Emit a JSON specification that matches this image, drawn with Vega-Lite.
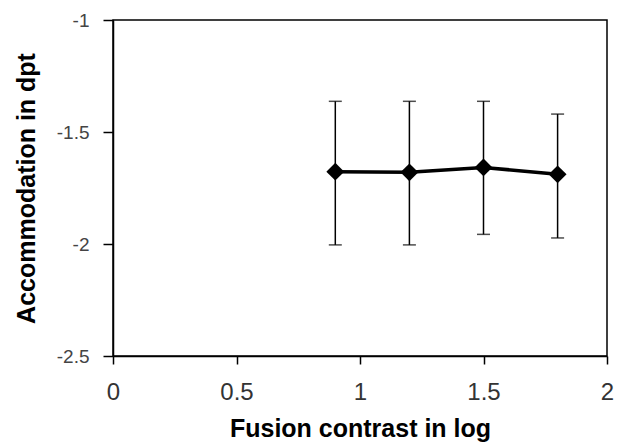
{
  "$schema": "https://vega.github.io/schema/vega-lite/v6.json",
  "width": 494,
  "height": 336,
  "autosize": {"type": "none"},
  "padding": {"left": 113, "top": 20, "right": 16, "bottom": 88},
  "background": "white",
  "config": {
    "view": {"stroke": "black", "strokeWidth": 1.5},
    "axis": {
      "domainColor": "black",
      "domainWidth": 1.5,
      "tickColor": "black",
      "tickWidth": 1.5,
      "grid": false,
      "labelFont": "Liberation Sans",
      "labelColor": "#333333",
      "titleFont": "Liberation Sans",
      "titleFontWeight": "bold",
      "titleFontSize": 25,
      "titleColor": "black"
    }
  },
  "data": {
    "values": [
      {"x": 0.9, "y": -1.677, "lo": -2.004, "hi": -1.363},
      {"x": 1.2, "y": -1.68, "lo": -2.004, "hi": -1.363},
      {"x": 1.5, "y": -1.658, "lo": -1.957, "hi": -1.363},
      {"x": 1.8, "y": -1.689, "lo": -1.973, "hi": -1.42}
    ]
  },
  "encoding": {
    "x": {
      "field": "x", "type": "quantitative",
      "scale": {"domain": [0, 2], "nice": false, "zero": false},
      "axis": {"title": "Fusion contrast in log", "values": [0, 0.5, 1, 1.5, 2], "labelExpr": "datum.value + ''", "labelFontSize": 24, "tickSize": 8, "labelPadding": 16, "titlePadding": 12, "labelFlush": false}
    }
  },
  "layer": [
    {
      "mark": {"type": "rule", "color": "black", "strokeWidth": 1.5},
      "encoding": {
        "y": {"field": "lo", "type": "quantitative"},
        "y2": {"field": "hi"}
      }
    },
    {
      "mark": {"type": "tick", "color": "black", "orient": "horizontal", "size": 13, "thickness": 1.5},
      "encoding": {"y": {"field": "lo", "type": "quantitative"}}
    },
    {
      "mark": {"type": "tick", "color": "black", "orient": "horizontal", "size": 13, "thickness": 1.5},
      "encoding": {"y": {"field": "hi", "type": "quantitative"}}
    },
    {
      "mark": {"type": "line", "color": "black", "strokeWidth": 3.5},
      "encoding": {"y": {"field": "y", "type": "quantitative"}}
    },
    {
      "mark": {"type": "point", "shape": "diamond", "filled": true, "color": "black", "size": 320, "opacity": 1},
      "encoding": {
        "y": {
          "field": "y", "type": "quantitative",
          "scale": {"domain": [-2.5, -1], "nice": false, "zero": false},
          "axis": {"title": "Accommodation in dpt", "values": [-2.5, -2, -1.5, -1], "labelExpr": "datum.value + ''", "labelFontSize": 19, "labelColor": "#444444", "tickSize": 10, "labelPadding": 14, "titlePadding": 17, "labelFlush": false}
        }
      }
    }
  ]
}
